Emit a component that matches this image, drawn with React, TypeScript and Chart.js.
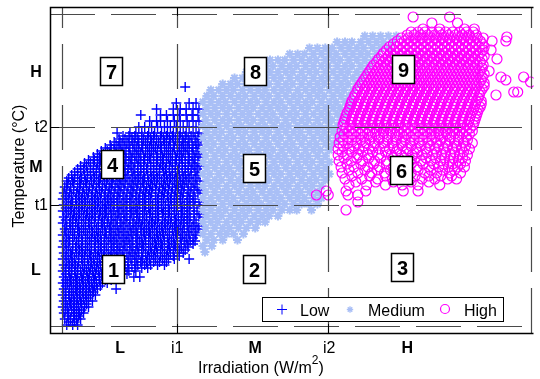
import React, { useEffect, useRef } from 'react';
import { Chart, registerables } from 'chart.js';

Chart.register(...registerables);

type Row = [number, number[]];

// Each row: [temperature value, list of irradiation values] (axis units)
const lowRows: Row[] = [
  [8, [17, 23, 28]],
  [11, [19, 25]],
  [14, [15, 21, 27, 31]],
  [17, [18, 24, 29]],
  [20, [14, 19, 25, 30, 34]],
  [23, [16, 22, 27, 32]],
  [26, [13, 18, 24, 29, 35, 39]],
  [29, [16, 21, 27, 32, 37]],
  [32, [14, 20, 25, 31, 37, 43]],
  [35, [16, 22, 28, 34, 39]],
  [38, [13, 19, 24, 30, 36, 41, 46]],
  [41, [16, 22, 27, 33, 39, 44]],
  [44, [14, 20, 26, 31, 37, 43, 48, 67]],
  [47, [16, 22, 28, 34, 40, 45, 51]],
  [50, [13, 18, 24, 30, 36, 42, 47, 53, 58]],
  [53, [16, 21, 27, 33, 39, 45, 50, 56, 62]],
  [56, [14, 20, 26, 32, 38, 44, 50, 56, 62, 69, 85, 91]],
  [59, [16, 22, 28, 34, 40, 46, 52, 59, 65, 72, 78]],
  [62, [13, 19, 25, 31, 37, 43, 49, 55, 61, 67, 73, 80, 87]],
  [65, [16, 22, 28, 35, 41, 47, 54, 60, 66, 73, 79, 86, 93, 99]],
  [68, [14, 20, 26, 33, 39, 45, 51, 58, 64, 70, 76, 83, 89, 96, 102, 109, 116]],
  [71, [17, 23, 29, 35, 42, 48, 54, 61, 67, 73, 79, 86, 92, 98, 105, 111, 118]],
  [74, [13, 19, 25, 32, 38, 44, 50, 57, 63, 69, 75, 82, 88, 94, 101, 107, 114, 120, 126, 141]],
  [77, [16, 22, 29, 35, 41, 48, 54, 61, 67, 73, 80, 86, 93, 99, 105, 112, 118, 125, 131]],
  [80, [14, 21, 27, 33, 40, 46, 52, 59, 65, 71, 78, 84, 90, 97, 103, 109, 116, 122, 129, 135]],
  [83, [17, 23, 30, 36, 42, 49, 55, 62, 68, 74, 81, 87, 93, 100, 106, 112, 119, 125, 131, 137]],
  [86, [13, 19, 26, 32, 38, 45, 51, 57, 64, 70, 76, 83, 89, 95, 102, 108, 114, 121, 127, 133, 140]],
  [89, [16, 23, 29, 36, 42, 49, 55, 62, 68, 75, 81, 88, 94, 100, 107, 113, 120, 126, 133, 139, 145]],
  [92, [14, 20, 27, 33, 40, 46, 52, 59, 65, 72, 78, 84, 91, 97, 104, 110, 116, 123, 129, 136, 142, 147]],
  [95, [17, 23, 29, 36, 42, 48, 55, 61, 67, 74, 80, 87, 93, 100, 106, 112, 119, 125, 132, 138, 145]],
  [98, [13, 19, 25, 32, 38, 45, 51, 57, 64, 70, 77, 83, 89, 96, 102, 109, 115, 121, 128, 134, 141, 148]],
  [101, [16, 23, 30, 36, 43, 49, 56, 62, 69, 75, 82, 88, 95, 101, 108, 114, 121, 127, 134, 140, 147]],
  [104, [15, 21, 28, 34, 40, 47, 53, 60, 66, 72, 79, 85, 92, 98, 104, 111, 117, 124, 130, 136, 143, 150]],
  [107, [17, 23, 29, 36, 42, 49, 55, 61, 68, 74, 81, 87, 93, 100, 106, 113, 119, 126, 132, 139, 145, 151]],
  [110, [13, 20, 26, 32, 39, 45, 52, 58, 64, 71, 77, 84, 90, 96, 103, 109, 116, 122, 128, 135, 141, 148]],
  [113, [16, 23, 29, 36, 42, 49, 55, 62, 68, 75, 81, 88, 94, 101, 107, 114, 120, 127, 133, 139, 146]],
  [116, [14, 21, 27, 34, 40, 46, 53, 59, 66, 72, 78, 85, 91, 98, 104, 110, 117, 123, 130, 136, 142, 151]],
  [119, [17, 24, 30, 37, 43, 50, 56, 62, 69, 75, 82, 88, 94, 101, 107, 114, 120, 126, 133, 139, 146, 152]],
  [122, [13, 19, 25, 32, 38, 45, 51, 57, 64, 70, 77, 83, 89, 96, 102, 109, 115, 121, 128, 134, 141, 149]],
  [125, [16, 22, 29, 35, 42, 48, 55, 61, 68, 74, 81, 87, 94, 100, 107, 113, 120, 126, 133, 139, 146]],
  [128, [14, 21, 27, 33, 40, 46, 53, 59, 65, 72, 78, 85, 91, 97, 104, 110, 117, 123, 129, 136, 142, 152]],
  [131, [17, 23, 30, 36, 43, 49, 56, 62, 68, 75, 81, 88, 94, 100, 107, 113, 120, 126, 132, 139, 145, 151]],
  [134, [13, 19, 26, 32, 38, 45, 51, 58, 64, 70, 77, 83, 90, 96, 102, 109, 115, 122, 128, 134, 141, 147]],
  [137, [16, 22, 29, 35, 42, 48, 55, 61, 68, 74, 81, 87, 94, 100, 107, 113, 119, 126, 132, 139, 145]],
  [140, [14, 20, 27, 33, 39, 46, 52, 59, 65, 71, 78, 84, 91, 97, 103, 110, 116, 123, 129, 135, 142, 150]],
  [143, [17, 24, 30, 37, 43, 50, 56, 62, 69, 75, 82, 88, 95, 101, 107, 114, 120, 127, 133, 140, 146, 152]],
  [146, [15, 21, 28, 34, 40, 47, 53, 60, 66, 72, 79, 85, 92, 98, 104, 111, 117, 124, 130, 136, 143, 149]],
  [149, [18, 24, 31, 37, 44, 50, 57, 63, 70, 76, 83, 89, 95, 102, 108, 115, 121, 128, 134, 140, 147]],
  [152, [17, 23, 30, 36, 42, 49, 55, 62, 68, 74, 81, 87, 94, 100, 106, 113, 119, 126, 132, 138, 145, 152]],
  [155, [19, 25, 32, 38, 45, 51, 58, 64, 71, 77, 84, 90, 96, 103, 109, 116, 122, 128, 135, 141, 148]],
  [158, [22, 28, 35, 41, 47, 54, 60, 67, 73, 79, 86, 92, 99, 105, 111, 118, 124, 131, 137, 143, 150]],
  [161, [25, 31, 38, 44, 50, 57, 63, 70, 76, 83, 89, 95, 102, 108, 115, 121, 127, 134, 140, 147]],
  [164, [28, 34, 41, 47, 53, 60, 66, 73, 79, 85, 92, 98, 105, 111, 117, 124, 130, 137, 143, 149]],
  [167, [31, 37, 44, 50, 57, 63, 70, 76, 82, 89, 95, 102, 108, 114, 121, 127, 134, 140, 146, 152]],
  [170, [35, 41, 48, 54, 60, 67, 73, 80, 86, 92, 99, 105, 112, 118, 124, 131, 137, 144, 150]],
  [173, [39, 45, 51, 58, 64, 70, 77, 83, 90, 96, 102, 109, 115, 122, 128, 134, 141, 147]],
  [176, [44, 50, 56, 63, 69, 76, 82, 88, 95, 101, 108, 114, 120, 127, 133, 140, 146, 152]],
  [179, [48, 54, 60, 67, 73, 80, 86, 92, 99, 105, 112, 118, 124, 131, 137, 144, 150]],
  [182, [52, 58, 65, 71, 77, 84, 90, 97, 103, 109, 116, 122, 129, 135, 141, 148]],
  [185, [56, 62, 69, 75, 81, 88, 94, 101, 107, 113, 120, 126, 133, 139, 145, 151]],
  [188, [61, 67, 73, 80, 86, 93, 99, 105, 112, 118, 125, 131, 137, 144, 150]],
  [191, [65, 71, 78, 84, 90, 97, 103, 110, 116, 122, 129, 135, 141, 148]],
  [194, [70, 76, 83, 89, 95, 102, 108, 115, 121, 127, 134, 140, 147, 153]],
  [197, [74, 80, 86, 93, 99, 105, 112, 118, 124, 131, 137, 143, 150]],
  [200, [68, 81, 87, 93, 100, 106, 113, 119, 125, 132, 138, 145, 151]],
  [206, [90, 96, 103, 109, 116, 122, 128, 135, 141, 148]],
  [212, [101, 108, 112, 119, 126, 132, 139, 145, 151]],
  [218, [92, 112, 118, 125, 131, 138, 144, 150]],
  [224, [108, 125, 132, 138, 145, 151]],
  [230, [128, 141, 148]],
  [246, [137]],
];

const mediumRows: Row[] = [
  [81, [157]],
  [87, [155, 164]],
  [93, [159, 166, 175, 190]],
  [99, [155, 163, 172, 179, 186, 196]],
  [105, [158, 167, 175, 182, 191, 199, 208]],
  [111, [155, 163, 170, 179, 187, 194, 203, 211, 218]],
  [117, [159, 167, 174, 183, 191, 198, 207, 215, 222, 231]],
  [123, [155, 163, 171, 178, 187, 195, 202, 211, 219, 226, 235, 243, 250, 265]],
  [129, [159, 166, 175, 183, 190, 199, 207, 214, 223, 231, 238, 247, 255, 262, 271]],
  [135, [155, 163, 171, 179, 186, 195, 203, 210, 219, 227, 234, 243, 251, 258, 267, 275]],
  [141, [158, 167, 175, 182, 191, 199, 206, 215, 223, 230, 239, 247, 254, 263, 271]],
  [147, [155, 163, 170, 179, 187, 194, 203, 211, 218, 227, 235, 242, 251, 259, 266, 275]],
  [153, [159, 167, 174, 183, 191, 198, 207, 215, 222, 231, 239, 246, 255, 263, 270, 279]],
  [159, [155, 162, 171, 179, 186, 195, 203, 210, 219, 227, 234, 243, 251, 258, 267, 275, 283]],
  [165, [159, 167, 175, 182, 191, 199, 206, 215, 223, 230, 239, 247, 254, 263, 271, 279]],
  [171, [155, 163, 170, 179, 187, 194, 203, 211, 218, 227, 235, 242, 251, 259, 266, 275, 283]],
  [177, [158, 167, 175, 183, 190, 199, 207, 214, 223, 231, 238, 247, 255, 262, 271, 279]],
  [183, [155, 163, 171, 178, 187, 195, 202, 211, 219, 226, 235, 243, 250, 259, 267, 274, 283]],
  [189, [159, 166, 175, 183, 191, 198, 207, 215, 222, 231, 239, 246, 255, 263, 270, 279, 287]],
  [195, [155, 163, 171, 179, 186, 195, 203, 210, 219, 227, 234, 243, 251, 258, 267, 275, 282, 291]],
  [201, [159, 167, 174, 183, 191, 198, 207, 215, 222, 231, 239, 247, 254, 263, 271, 278, 287, 295]],
  [207, [155, 162, 171, 179, 187, 194, 203, 211, 218, 227, 235, 242, 251, 259, 267, 274, 283, 291]],
  [213, [158, 167, 175, 182, 191, 199, 206, 215, 223, 230, 239, 247, 255, 262, 271, 279, 286, 295]],
  [219, [155, 163, 170, 179, 187, 195, 202, 211, 219, 226, 235, 243, 250, 259, 267, 275, 282, 291, 299]],
  [225, [159, 167, 175, 182, 191, 199, 206, 215, 223, 231, 238, 247, 255, 262, 271, 279, 287, 294, 303]],
  [231, [155, 163, 171, 178, 187, 195, 203, 210, 219, 227, 234, 243, 251, 259, 266, 275, 283, 290, 299, 307]],
  [237, [159, 166, 175, 183, 191, 198, 207, 215, 222, 231, 239, 247, 254, 263, 271, 278, 287, 295, 303]],
  [243, [163, 171, 179, 186, 195, 203, 211, 218, 227, 235, 242, 251, 259, 267, 274, 283, 291, 298, 307]],
  [249, [175, 183, 190, 199, 207, 215, 222, 231, 239, 246, 255, 263, 271, 278, 287, 295, 302, 311]],
  [255, [187, 195, 202, 211, 219, 227, 234, 243, 251, 258, 267, 275, 282, 291, 299, 307, 315]],
  [261, [199, 207, 214, 223, 231, 239, 246, 255, 263, 270, 279, 287, 295, 302, 311, 319]],
  [267, [203, 211, 219, 226, 235, 243, 250, 259, 267, 275, 282, 291, 299, 306, 315, 323]],
  [273, [223, 231, 238, 247, 255, 263, 270, 279, 287, 294, 303, 311, 319, 327]],
  [279, [243, 251, 258, 267, 275, 283, 290, 299, 307, 315, 322, 331]],
  [285, [263, 271, 279, 286, 295, 303, 311, 318, 327, 335, 343]],
  [291, [291, 299, 306, 315, 323, 331, 338, 347]],
  [297, [319, 327, 335, 343, 351]],
];

const highRows: Row[] = [
  [316, [368, 405]],
  [310, [387, 413]],
  [304, [378, 395, 420, 430]],
  [301, [366, 373, 380, 387, 394, 401, 408, 415, 422, 429]],
  [298, [362, 369, 376, 383, 390, 397, 404, 411, 418, 425, 432]],
  [296, [463]],
  [295, [356, 363, 370, 377, 384, 391, 398, 405, 412, 419, 426, 433, 439]],
  [292, [352, 359, 366, 373, 380, 387, 394, 401, 408, 415, 422, 429, 436, 448, 462]],
  [289, [348, 355, 362, 369, 376, 383, 390, 397, 404, 411, 418, 425, 432, 438]],
  [286, [344, 351, 358, 365, 372, 379, 386, 393, 400, 407, 414, 421, 428, 435, 440]],
  [283, [341, 348, 355, 362, 369, 376, 383, 390, 397, 404, 411, 418, 425, 432, 439, 447]],
  [280, [338, 345, 352, 359, 366, 373, 380, 387, 394, 401, 408, 415, 422, 429, 436]],
  [277, [336, 343, 350, 357, 364, 371, 378, 385, 392, 399, 406, 413, 420, 427, 434, 440]],
  [274, [333, 340, 347, 354, 361, 368, 375, 382, 389, 396, 403, 410, 417, 424, 431, 438, 453]],
  [271, [331, 338, 345, 352, 359, 366, 373, 380, 387, 394, 401, 408, 415, 422, 429, 436]],
  [268, [328, 335, 342, 349, 356, 363, 370, 377, 384, 391, 398, 405, 412, 419, 426, 433, 439]],
  [265, [326, 333, 340, 347, 354, 361, 368, 375, 382, 389, 396, 403, 410, 417, 424, 431, 438]],
  [262, [324, 331, 338, 345, 352, 359, 366, 373, 380, 387, 394, 401, 408, 415, 422, 429, 436, 445]],
  [259, [322, 329, 336, 343, 350, 357, 364, 371, 378, 385, 392, 399, 406, 413, 420, 427, 434, 440]],
  [256, [320, 327, 334, 341, 348, 355, 362, 369, 376, 383, 390, 397, 404, 411, 418, 425, 432, 438, 457, 480]],
  [253, [318, 325, 332, 339, 346, 353, 360, 367, 374, 381, 388, 395, 402, 409, 416, 423, 430, 437, 462]],
  [251, [487]],
  [250, [316, 323, 330, 337, 344, 351, 358, 365, 372, 379, 386, 393, 400, 407, 414, 421, 428, 435, 440]],
  [247, [314, 321, 328, 335, 342, 349, 356, 363, 370, 377, 384, 391, 398, 405, 412, 419, 426, 433, 440]],
  [244, [312, 319, 326, 333, 340, 347, 354, 361, 368, 375, 382, 389, 396, 403, 410, 417, 424, 431, 438]],
  [241, [311, 318, 325, 332, 339, 346, 353, 360, 367, 374, 381, 388, 395, 402, 409, 416, 423, 430, 436, 470, 474]],
  [238, [309, 316, 323, 330, 337, 344, 351, 358, 365, 372, 379, 386, 393, 400, 407, 414, 421, 428, 435, 452]],
  [235, [308, 315, 322, 329, 336, 343, 350, 357, 364, 371, 378, 385, 392, 399, 406, 413, 420, 427, 434]],
  [232, [306, 313, 320, 327, 334, 341, 348, 355, 362, 369, 376, 383, 390, 397, 404, 411, 418, 425, 432, 437]],
  [229, [305, 312, 319, 326, 333, 340, 347, 354, 361, 368, 375, 382, 389, 396, 403, 410, 417, 424, 431, 437]],
  [226, [304, 311, 318, 325, 332, 339, 346, 353, 360, 367, 374, 381, 388, 395, 402, 409, 416, 423, 430, 436]],
  [223, [303, 310, 317, 324, 331, 338, 345, 352, 359, 366, 373, 380, 387, 394, 401, 408, 415, 422, 429, 434]],
  [220, [301, 308, 315, 322, 329, 336, 343, 350, 357, 364, 371, 378, 385, 392, 399, 406, 413, 420, 427, 433]],
  [217, [300, 307, 314, 321, 328, 335, 342, 349, 356, 363, 370, 377, 384, 391, 398, 405, 412, 419, 426, 432]],
  [214, [299, 306, 313, 320, 327, 334, 341, 348, 355, 362, 369, 376, 383, 390, 397, 404, 411, 418, 425, 431]],
  [211, [298, 305, 312, 319, 326, 333, 340, 347, 354, 361, 368, 375, 382, 389, 396, 403, 410, 417, 424, 430]],
  [208, [297, 304, 311, 318, 325, 332, 339, 346, 353, 360, 367, 374, 381, 388, 395, 402, 409, 416, 423, 429]],
  [205, [300, 307, 314, 321, 328, 335, 342, 349, 356, 363, 370, 377, 384, 391, 398, 405, 412, 419, 426]],
  [202, [296, 303, 310, 317, 324, 331, 338, 345, 352, 359, 366, 373, 380, 387, 394, 401, 408, 415, 422, 428]],
  [199, [298, 306, 314, 322, 330, 338, 346, 354, 362, 370, 378, 386, 394, 402, 410, 418, 425]],
  [196, [294, 302, 310, 318, 326, 334, 342, 350, 358, 366, 374, 382, 390, 398, 406, 414, 422]],
  [193, [297, 306, 315, 324, 333, 342, 351, 360, 369, 378, 387, 396, 405, 414, 423]],
  [190, [293, 302, 311, 320, 329, 338, 347, 356, 365, 374, 383, 392, 401, 410, 419, 428]],
  [187, [297, 308, 318, 328, 339, 348, 357, 366, 376, 385, 394, 403, 412, 421]],
  [184, [292, 303, 313, 323, 334, 344, 352, 362, 371, 381, 390, 399, 408, 417, 425]],
  [181, [296, 306, 317, 327, 340, 351, 361, 372, 382, 392, 401, 410, 419]],
  [178, [292, 301, 312, 322, 333, 346, 356, 367, 377, 388, 397, 406, 415, 423]],
  [175, [298, 311, 323, 335, 348, 359, 370, 381, 391, 400, 409, 418]],
  [172, [293, 305, 317, 329, 341, 354, 365, 376, 386, 396, 405, 414, 421]],
  [169, [301, 315, 328, 341, 354, 366, 378, 389, 399, 408, 416]],
  [166, [295, 308, 322, 334, 348, 360, 372, 384, 394, 404, 413, 420]],
  [163, [303, 319, 332, 345, 359, 373, 386, 398, 410]],
  [160, [296, 312, 326, 339, 352, 366, 380, 392, 405, 416]],
  [157, [306, 324, 340, 355, 370, 384, 396, 407]],
  [154, [299, 316, 332, 347, 362, 377, 390, 403, 412]],
  [151, [310, 330, 348, 366, 384]],
  [148, [303, 321, 340, 357, 373, 395]],
  [142, [280, 300, 320, 358, 373]],
  [138, [270, 282, 302, 312]],
  [131, [312]],
  [123, [300]],
];

const seriesNames = ['Low', 'Medium', 'High'];
const seriesColors = ['#0000ff', '#a9bff6', '#ff00ff'];

const xRefLines = [12, 129, 282, 487];
const yRefLines = [7, 128, 206, 319];
const xTickValues = [71, 129, 208, 283, 362];
const xTickLabels = ['L', 'i1', 'M', 'i2', 'H'];
const yTickValues = [63, 128, 166, 206, 261];
const yTickLabels = ['L', 't1', 'M', 't2', 'H'];

const zoneNumbers = ['1', '2', '3', '4', '5', '6', '7', '8', '9'];
const zoneX = [63.5, 207, 357, 62.5, 206.5, 356, 61.5, 208, 358];
const zoneY = [64.5, 64, 66, 169, 165.5, 163.5, 262, 262.5, 264];

const FONT = '"Liberation Sans", Arial, Helvetica, sans-serif';

function toPoints(rows: Row[]) {
  return rows.flatMap(([y, xs]) => xs.map((x) => ({ x, y })));
}

const overlayPlugin = {
  id: 'overlay',
  afterDatasetsDraw(chart: any) {
    const { ctx, chartArea: a } = chart;
    const xs = chart.scales.x;
    const ys = chart.scales.y;
    ctx.save();

    // dashed reference lines
    ctx.strokeStyle = '#4a4a4a';
    ctx.lineWidth = 1.2;
    ctx.setLineDash([45, 16]);
    yRefLines.forEach((v) => {
      const py = Math.round(ys.getPixelForValue(v)) + 0.5;
      ctx.beginPath();
      ctx.moveTo(a.left, py);
      ctx.lineTo(a.right, py);
      ctx.stroke();
    });
    xRefLines.forEach((v) => {
      const px = Math.round(xs.getPixelForValue(v)) + 0.5;
      ctx.beginPath();
      ctx.moveTo(px, a.bottom);
      ctx.lineTo(px, a.top);
      ctx.stroke();
    });
    ctx.setLineDash([]);

    // tick marks
    ctx.strokeStyle = '#000';
    ctx.lineWidth = 1;
    [128, 206].forEach((v) => {
      const py = Math.round(ys.getPixelForValue(v)) + 0.5;
      ctx.beginPath();
      ctx.moveTo(a.left, py);
      ctx.lineTo(a.left + 9, py);
      ctx.stroke();
    });
    [129, 282].forEach((v) => {
      const px = Math.round(xs.getPixelForValue(v)) + 0.5;
      ctx.beginPath();
      ctx.moveTo(px, a.bottom);
      ctx.lineTo(px, a.bottom - 9);
      ctx.moveTo(px, a.top);
      ctx.lineTo(px, a.top + 9);
      ctx.stroke();
    });

    // frame
    ctx.lineWidth = 1.5;
    ctx.beginPath();
    ctx.moveTo(a.right, a.top + 0.5);
    ctx.lineTo(a.left + 0.5, a.top + 0.5);
    ctx.lineTo(a.left + 0.5, a.bottom + 0.5);
    ctx.lineTo(a.right, a.bottom + 0.5);
    ctx.stroke();

    // zone boxes
    zoneNumbers.forEach((n, i) => {
      const px = xs.getPixelForValue(zoneX[i]);
      const py = ys.getPixelForValue(zoneY[i]);
      const bx = Math.round(px - 11) + 0.5;
      const by = Math.round(py - 14) + 0.5;
      ctx.fillStyle = '#fff';
      ctx.fillRect(bx, by, 22, 28);
      ctx.strokeStyle = '#000';
      ctx.lineWidth = 1.5;
      ctx.strokeRect(bx, by, 22, 28);
      ctx.fillStyle = '#000';
      ctx.font = `bold 20px ${FONT}`;
      ctx.textAlign = 'center';
      ctx.textBaseline = 'alphabetic';
      ctx.fillText(n, bx + 11, by + 21.5);
    });

    // legend
    const lx = 262.5, ly = 297.5, lw = 241, lh = 24;
    ctx.fillStyle = '#fff';
    ctx.fillRect(lx, ly, lw, lh);
    ctx.strokeStyle = '#000';
    ctx.lineWidth = 1;
    ctx.strokeRect(lx, ly, lw, lh);
    const my = 309.5;
    ctx.strokeStyle = seriesColors[0];
    ctx.beginPath();
    ctx.moveTo(277, my); ctx.lineTo(287, my);
    ctx.moveTo(282, my - 5); ctx.lineTo(282, my + 5);
    ctx.stroke();
    ctx.strokeStyle = seriesColors[1];
    ctx.lineWidth = 1.3;
    const sx = 350, sr = 3.2;
    ctx.beginPath();
    ctx.moveTo(sx - sr, my); ctx.lineTo(sx + sr, my);
    ctx.moveTo(sx, my - sr); ctx.lineTo(sx, my + sr);
    ctx.moveTo(sx - sr * 0.7, my - sr * 0.7); ctx.lineTo(sx + sr * 0.7, my + sr * 0.7);
    ctx.moveTo(sx - sr * 0.7, my + sr * 0.7); ctx.lineTo(sx + sr * 0.7, my - sr * 0.7);
    ctx.stroke();
    ctx.strokeStyle = seriesColors[2];
    ctx.lineWidth = 1.2;
    ctx.beginPath();
    ctx.arc(445, my - 0.5, 4.5, 0, Math.PI * 2);
    ctx.stroke();
    ctx.fillStyle = '#000';
    ctx.font = `16px ${FONT}`;
    ctx.textAlign = 'left';
    ctx.textBaseline = 'alphabetic';
    ctx.fillText(seriesNames[0], 300, 316);
    ctx.fillText(seriesNames[1], 368, 316);
    ctx.fillText(seriesNames[2], 464, 316);

    // x tick labels
    ctx.textAlign = 'center';
    xTickLabels.forEach((t, i) => {
      const bold = t === 'L' || t === 'M' || t === 'H';
      ctx.font = `${bold ? 'bold ' : ''}16px ${FONT}`;
      ctx.fillText(t, xs.getPixelForValue(xTickValues[i]), 353);
    });
    // y tick labels
    ctx.textBaseline = 'middle';
    yTickLabels.forEach((t, i) => {
      const bold = t === 'L' || t === 'M' || t === 'H';
      ctx.font = `${bold ? 'bold ' : ''}16px ${FONT}`;
      const py = ys.getPixelForValue(yTickValues[i]) + 1;
      if (bold) {
        ctx.textAlign = 'center';
        ctx.fillText(t, 36, py);
      } else {
        ctx.textAlign = 'right';
        ctx.fillText(t, 48, py);
      }
    });

    // axis titles
    ctx.textBaseline = 'alphabetic';
    ctx.textAlign = 'left';
    ctx.font = `16px ${FONT}`;
    const t1 = 'Irradiation (W/m';
    const w1 = ctx.measureText(t1).width;
    const tx = 198;
    ctx.fillText(t1, tx, 373);
    ctx.font = `12px ${FONT}`;
    ctx.fillText('2', tx + w1, 364);
    const w2 = ctx.measureText('2').width;
    ctx.font = `16px ${FONT}`;
    ctx.fillText(')', tx + w1 + w2, 373);

    ctx.save();
    ctx.translate(23.5, 166);
    ctx.rotate(-Math.PI / 2);
    ctx.textAlign = 'center';
    ctx.fillText('Temperature (\u00B0C)', 0, 0);
    ctx.restore();

    ctx.restore();
  },
};

export default function App() {
  const canvasRef = useRef<HTMLCanvasElement | null>(null);

  useEffect(() => {
    const canvas = canvasRef.current;
    if (!canvas) return;
    Chart.defaults.font.family = FONT;
    const chart = new Chart(canvas, {
      type: 'scatter',
      data: {
        datasets: [
          {
            label: seriesNames[0],
            data: toPoints(lowRows),
            pointStyle: 'cross',
            pointRadius: 5,
            borderColor: seriesColors[0],
            backgroundColor: seriesColors[0],
            borderWidth: 1.4,
            order: 2,
          },
          {
            label: seriesNames[1],
            data: toPoints(mediumRows),
            pointStyle: 'star',
            pointRadius: 4.5,
            borderColor: seriesColors[1],
            backgroundColor: seriesColors[1],
            borderWidth: 2,
            order: 1,
          },
          {
            label: seriesNames[2],
            data: toPoints(highRows),
            pointStyle: 'circle',
            pointRadius: 5,
            borderColor: seriesColors[2],
            backgroundColor: 'rgba(0,0,0,0)',
            borderWidth: 1.2,
            order: 0,
          },
        ],
      },
      options: {
        responsive: false,
        animation: false,
        events: [],
        layout: { padding: { left: 50, top: 7, right: 0, bottom: 46 } },
        scales: {
          x: { type: 'linear', min: 0, max: 490, display: false },
          y: { type: 'linear', min: 0, max: 326, display: false },
        },
        plugins: {
          legend: { display: false },
          tooltip: { enabled: false },
        },
      },
      plugins: [overlayPlugin],
    });
    return () => chart.destroy();
  }, []);

  return (
    <div style={{ position: 'fixed', left: 0, top: 0, width: 540, height: 379, background: '#fff' }}>
      <canvas ref={canvasRef} width={540} height={379} style={{ display: 'block' }} />
    </div>
  );
}
